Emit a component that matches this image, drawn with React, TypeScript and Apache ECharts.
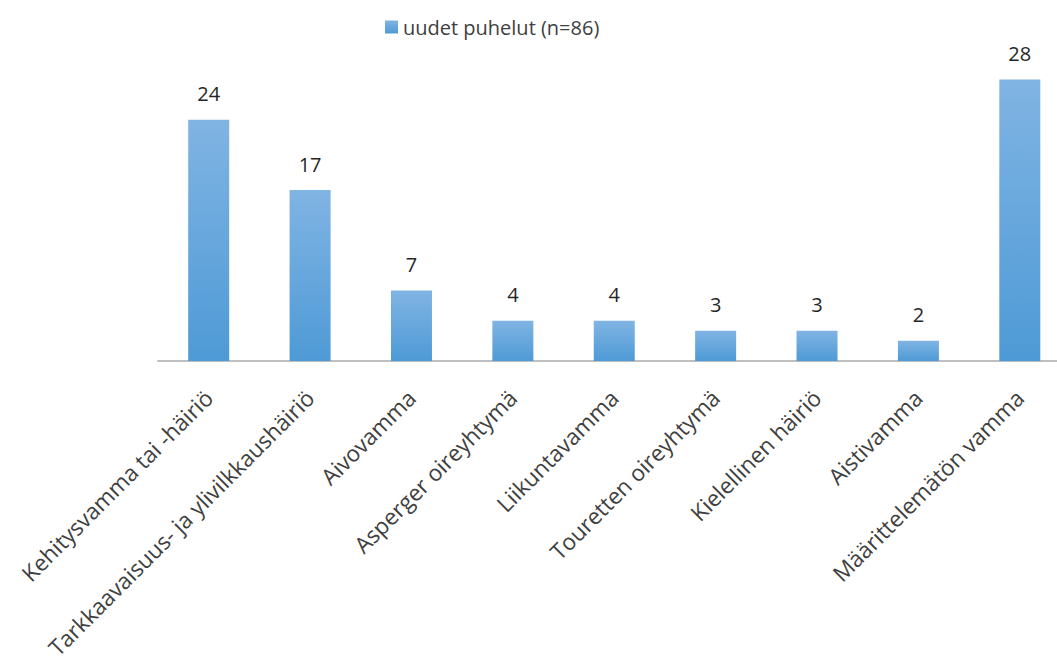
import React, { useEffect, useRef } from "react";
import * as echarts from "echarts";

const categories = [
  "Kehitysvamma tai -häiriö",
  "Tarkkaavaisuus- ja ylivilkkaushäiriö",
  "Aivovamma",
  "Asperger oireyhtymä",
  "Liikuntavamma",
  "Touretten oireyhtymä",
  "Kielellinen häiriö",
  "Aistivamma",
  "Määrittelemätön vamma",
];
const seriesName = "uudet puhelut (n=86)";
const calls = [24, 17, 7, 4, 4, 3, 3, 2, 28];

const FONT = "Open Sans";

// The plot area runs past the right edge of the visible frame, so the
// chart canvas is wider than the window and clipped by its wrapper.
const VIEW_W = 1057;
const VIEW_H = 662;
const CHART_W = 1072;

export default function App() {
  const ref = useRef<HTMLDivElement>(null);

  useEffect(() => {
    if (!ref.current) return;
    const chart = echarts.init(ref.current, undefined, { renderer: "svg" });
    const barFill = new echarts.graphic.LinearGradient(0, 0, 0, 1, [
      { offset: 0, color: "#80b4e3" },
      { offset: 1, color: "#4e9ad6" },
    ]);
    chart.setOption({
      animation: false,
      backgroundColor: "#ffffff",
      textStyle: { fontFamily: FONT },
      legend: {
        data: [seriesName],
        top: 12,
        left: 380,
        itemWidth: 13,
        itemHeight: 13,
        itemGap: 6,
        icon: "rect",
        textStyle: { fontFamily: FONT, fontSize: 20, color: "#404040" },
      },
      grid: { left: 158, right: CHART_W - 1070.5, top: 59.5, bottom: 299.5, containLabel: false },
      xAxis: {
        type: "category",
        data: categories,
        axisLine: { show: true, lineStyle: { color: "#bfbfbf", width: 2 } },
        axisTick: { show: false },
        axisLabel: {
          interval: 0,
          rotate: 45,
          margin: 33,
          fontFamily: FONT,
          fontSize: 22.5,
          color: "#404040",
        },
      },
      yAxis: {
        type: "value",
        min: 0,
        max: 30,
        show: false,
        splitLine: { show: false },
      },
      series: [
        {
          name: seriesName,
          type: "bar",
          data: calls,
          barWidth: 41,
          itemStyle: { color: barFill },
          label: {
            show: true,
            position: "top",
            distance: 16,
            fontFamily: FONT,
            fontSize: 20,
            color: "#262626",
          },
        },
      ],
    });
    return () => chart.dispose();
  }, []);

  return (
    <div
      style={{
        position: "fixed",
        left: 0,
        top: 0,
        width: VIEW_W,
        height: VIEW_H,
        overflow: "hidden",
        background: "#fff",
      }}
    >
      <div ref={ref} style={{ width: CHART_W, height: VIEW_H }} />
    </div>
  );
}
